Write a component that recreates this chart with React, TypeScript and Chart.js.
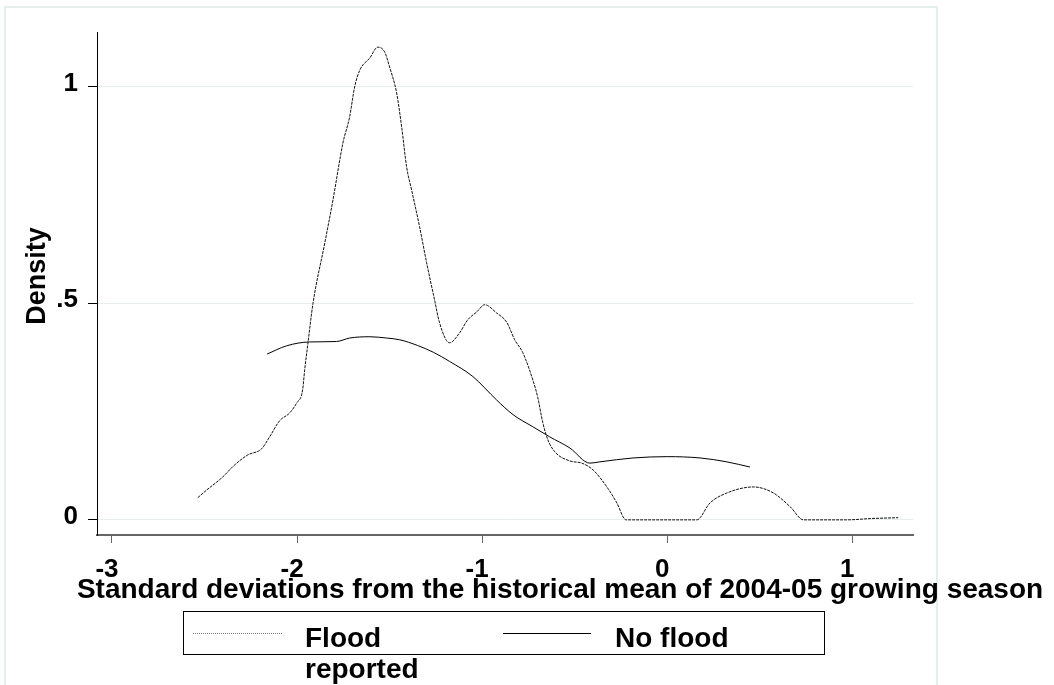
import React, { useEffect, useRef } from 'react';
import { Chart, registerables } from 'chart.js';

Chart.register(...registerables);

// ---- Data ----
const FLOOD_X = [
  -2.537, -2.488, -2.407, -2.337, -2.266, -2.192, -2.148, -2.094, -2.04, -2.002,
  -1.97, -1.959, -1.941, -1.914, -1.85, -1.806, -1.752, -1.716, -1.689, -1.661,
  -1.607, -1.564, -1.527, -1.5, -1.462, -1.435, -1.408, -1.381, -1.338, -1.3,
  -1.257, -1.23, -1.176, -1.122, -1.078, -1.03, -0.986, -0.922, -0.868, -0.824,
  -0.78, -0.726, -0.7, -0.672, -0.645, -0.607, -0.526, -0.461, -0.4, -0.326,
  -0.272, -0.223, 0.16, 0.231, 0.322, 0.466, 0.574, 0.665, 0.736, 0.97, 1.1, 1.248,
];
const FLOOD_Y = [
  0.051, 0.069, 0.097, 0.127, 0.15, 0.164, 0.192, 0.229, 0.247, 0.27,
  0.3, 0.346, 0.409, 0.5, 0.64, 0.739, 0.871, 0.931, 1.0, 1.039,
  1.067, 1.092, 1.081, 1.046, 0.986, 0.908, 0.815, 0.762, 0.677, 0.594,
  0.508, 0.455, 0.409, 0.432, 0.462, 0.48, 0.497, 0.478, 0.457, 0.416,
  0.386, 0.323, 0.284, 0.224, 0.185, 0.157, 0.136, 0.131, 0.115, 0.076,
  0.039, 0.0, 0.0, 0.039, 0.062, 0.076, 0.062, 0.03, 0.0, 0.0, 0.003, 0.005,
];
const NOFLOOD_X = [
  -2.162, -2.057, -1.932, -1.787, -1.716, -1.607, -1.516, -1.445, -1.35, -1.263,
  -1.176, -1.05, -0.922, -0.833, -0.726, -0.636, -0.526, -0.418, -0.364, -0.184,
  0.0, 0.177, 0.322, 0.447,
];
const NOFLOOD_Y = [
  0.383, 0.402, 0.411, 0.412, 0.42, 0.423, 0.42, 0.416, 0.403, 0.387,
  0.366, 0.331, 0.277, 0.243, 0.215, 0.192, 0.166, 0.131, 0.134, 0.143,
  0.146, 0.143, 0.134, 0.122,
];
const SERIES_LABELS = ['Flood reported', 'No flood'];
const LEGEND_LINES = [['Flood', 'reported'], ['No flood']];
const X_TICKS = [-3, -2, -1, 0, 1];
const X_TICK_LABELS = ['-3', '-2', '-1', '0', '1'];
const Y_TICKS = [0, 0.5, 1];
const Y_TICK_LABELS = ['0', '.5', '1'];
const X_TITLE = 'Standard deviations from the historical mean of 2004-05 growing season';
const Y_TITLE = 'Density';

const FONT = 'Liberation Sans, Arial, Helvetica, sans-serif';

Chart.defaults.font.family = FONT;
Chart.defaults.font.weight = 'bold' as any;
Chart.defaults.color = '#000';

const decorPlugin = {
  id: 'stataDecor',
  beforeDraw(chart: any) {
    const ctx = chart.ctx;
    ctx.save();
    ctx.fillStyle = '#ffffff';
    ctx.fillRect(0, 0, chart.width, chart.height);
    ctx.strokeStyle = '#e6eded';
    ctx.lineWidth = 2;
    ctx.strokeRect(5, 7, 932, 720);
    ctx.restore();
  },
  afterDraw(chart: any) {
    const ctx = chart.ctx;
    const xs = chart.scales.x;
    const ys = chart.scales.y;
    ctx.save();
    ctx.fillStyle = '#000';

    // tick labels, placed through the chart's own scales
    ctx.font = `bold 26px ${FONT}`;
    ctx.textAlign = 'center';
    ctx.textBaseline = 'alphabetic';
    X_TICKS.forEach((v, i) => {
      ctx.fillText(X_TICK_LABELS[i], xs.getPixelForValue(v) - 5, xs.top + 42);
    });
    ctx.textAlign = 'right';
    Y_TICKS.forEach((v, i) => {
      ctx.fillText(Y_TICK_LABELS[i], ys.right - 19, ys.getPixelForValue(v) + 4);
    });

    // y-axis title
    ctx.save();
    ctx.font = `bold 27px ${FONT}`;
    ctx.textAlign = 'center';
    ctx.textBaseline = 'middle';
    ctx.translate(38, 276);
    ctx.rotate(-Math.PI / 2);
    ctx.fillText(Y_TITLE, 0, 0);
    ctx.restore();

    // x-axis title
    ctx.font = `bold 28px ${FONT}`;
    ctx.textAlign = 'center';
    ctx.fillText(X_TITLE, 560, 598);

    // legend box
    ctx.strokeStyle = '#000';
    ctx.lineWidth = 1;
    ctx.strokeRect(183.5, 611.5, 641, 43);
    const slots = [
      { x0: 193, x1: 283, tx: 305 },
      { x0: 503, x1: 591, tx: 615 },
    ];
    chart.data.datasets.forEach((ds: any, i: number) => {
      const s = slots[i];
      ctx.save();
      ctx.strokeStyle = i === 0 ? '#777' : ds.borderColor;
      ctx.lineWidth = ds.borderWidth;
      ctx.setLineDash(i === 0 ? [1, 1] : []);
      ctx.beginPath();
      ctx.moveTo(s.x0, 633.5);
      ctx.lineTo(s.x1, 633.5);
      ctx.stroke();
      ctx.restore();
      ctx.textAlign = 'left';
      ctx.font = `bold 28px ${FONT}`;
      LEGEND_LINES[i].forEach((line, j) => ctx.fillText(line, s.tx, 647 + j * 31));
    });
    ctx.restore();
  },
};

export default function App() {
  const ref = useRef<HTMLCanvasElement | null>(null);
  useEffect(() => {
    if (!ref.current) return;
    const chart = new Chart(ref.current, {
      type: 'line',
      data: {
        datasets: [
          {
            label: SERIES_LABELS[0],
            data: FLOOD_X.map((x, i) => ({ x, y: FLOOD_Y[i] })),
            borderColor: '#111',
            borderWidth: 1,
            borderDash: [3, 1],
            pointRadius: 0,
            fill: false,
            cubicInterpolationMode: 'monotone',
          },
          {
            label: SERIES_LABELS[1],
            data: NOFLOOD_X.map((x, i) => ({ x, y: NOFLOOD_Y[i] })),
            borderColor: '#000',
            borderWidth: 1,
            pointRadius: 0,
            fill: false,
            cubicInterpolationMode: 'monotone',
          },
        ],
      },
      options: {
        animation: false,
        responsive: false,
        devicePixelRatio: 1,
        layout: { padding: { top: 32, right: 141, left: 0, bottom: 0 } },
        plugins: { legend: { display: false }, tooltip: { enabled: false } },
        scales: {
          x: {
            type: 'linear',
            min: -3.081,
            max: 1.328,
            afterFit: (s: any) => { s.height = 150; },
            afterBuildTicks: (s: any) => { s.ticks = X_TICKS.map((v) => ({ value: v })); },
            ticks: {
              callback: (v: any) => X_TICK_LABELS[X_TICKS.indexOf(Number(v))] ?? '',
              color: 'rgba(0,0,0,0)',
              maxRotation: 0,
              autoSkip: false,
            },
            grid: { drawOnChartArea: false, drawTicks: true, tickLength: 8, color: '#666', tickColor: '#666' },
            border: { display: true, color: '#666', width: 2 },
          },
          y: {
            type: 'linear',
            min: -0.035,
            max: 1.127,
            afterFit: (s: any) => { s.width = 97; },
            afterBuildTicks: (s: any) => { s.ticks = Y_TICKS.map((v) => ({ value: v })); },
            ticks: {
              callback: (v: any) => Y_TICK_LABELS[Y_TICKS.indexOf(Number(v))] ?? '',
              color: 'rgba(0,0,0,0)',
              autoSkip: false,
            },
            grid: { color: '#e8eeee', lineWidth: 1, drawTicks: true, tickLength: 9, tickColor: '#000' },
            border: { display: true, color: '#000', width: 1 },
          },
        },
      },
      plugins: [decorPlugin],
    } as any);
    return () => chart.destroy();
  }, []);
  return (
    <div style={{ position: 'absolute', left: 0, top: 0, width: 1054, height: 685, background: '#fff' }}>
      <canvas ref={ref} width={1054} height={685} style={{ display: 'block', width: 1054, height: 685 }} />
    </div>
  );
}
